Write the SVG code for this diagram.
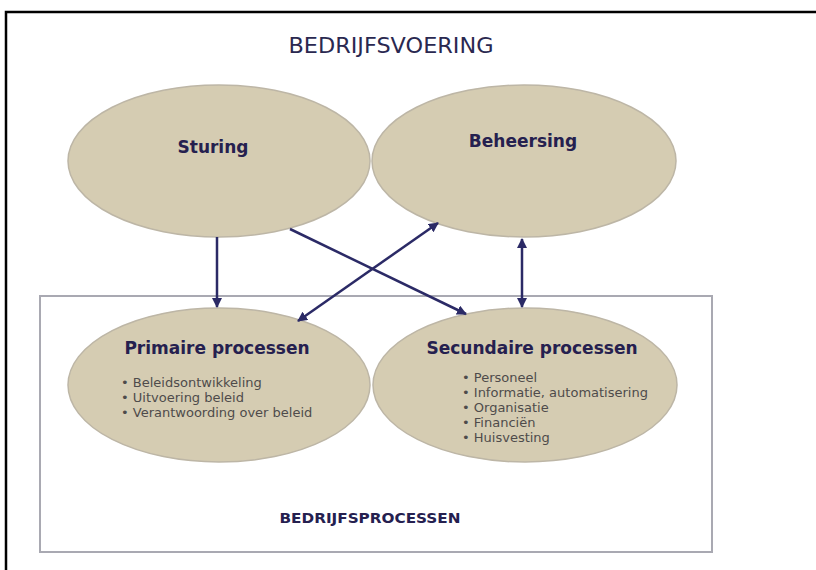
<svg xmlns="http://www.w3.org/2000/svg" width="816" height="570" viewBox="0 0 816 570">
<defs>
<marker id="ah" viewBox="0 0 10 10" refX="9" refY="5" markerWidth="4" markerHeight="4" orient="auto-start-reverse">
<path d="M0,0 L10,5 L0,10 z" fill="#2b2a66"/>
</marker>
<style>
.ell{fill:#d5ccb2;stroke:#bdb6a6;stroke-width:1.5}
.head{font-family:"DejaVu Sans",sans-serif;font-weight:bold;font-size:17px;fill:#25204f;text-anchor:middle}
.item{font-family:"DejaVu Sans",sans-serif;font-size:13px;fill:#4e4b4b}
.conn{stroke:#2b2a66;stroke-width:2.5;fill:none}
</style>
</defs>
<rect x="0" y="0" width="816" height="570" fill="#ffffff"/>
<rect x="6" y="12" width="830" height="580" fill="none" stroke="#000" stroke-width="2.5"/>
<text x="391" y="53" font-family="DejaVu Sans, sans-serif" font-size="21" fill="#2a2850" text-anchor="middle" textLength="205" lengthAdjust="spacingAndGlyphs">BEDRIJFSVOERING</text>
<g id="bedrijfsprocessen">
<rect x="40" y="296" width="672" height="256" fill="none" stroke="#a9a9b2" stroke-width="2"/>
<text x="370" y="523" font-family="DejaVu Sans, sans-serif" font-weight="bold" font-size="14" fill="#25204f" text-anchor="middle" textLength="181" lengthAdjust="spacingAndGlyphs">BEDRIJFSPROCESSEN</text>
</g>
<g id="sturing">
<ellipse class="ell" cx="219" cy="161" rx="151" ry="76"/>
<text class="head" x="213" y="153">Sturing</text>
</g>
<g id="beheersing">
<ellipse class="ell" cx="524" cy="161" rx="152" ry="76"/>
<text class="head" x="523" y="147">Beheersing</text>
</g>
<g id="primaire">
<ellipse class="ell" cx="219" cy="385" rx="151" ry="77"/>
<text class="head" x="217" y="354">Primaire processen</text>
<text class="item" x="121" y="387">• Beleidsontwikkeling</text>
<text class="item" x="121" y="402">• Uitvoering beleid</text>
<text class="item" x="121" y="417">• Verantwoording over beleid</text>
</g>
<g id="secundaire">
<ellipse class="ell" cx="525" cy="385" rx="152" ry="77"/>
<text class="head" x="532" y="354">Secundaire processen</text>
<text class="item" x="462" y="382">• Personeel</text>
<text class="item" x="462" y="397">• Informatie, automatisering</text>
<text class="item" x="462" y="412">• Organisatie</text>
<text class="item" x="462" y="427">• Financiën</text>
<text class="item" x="462" y="442">• Huisvesting</text>
</g>
<g id="connectors">
<line class="conn" x1="217" y1="237" x2="217" y2="307" marker-end="url(#ah)"/>
<line class="conn" x1="522" y1="239" x2="522" y2="307" marker-start="url(#ah)" marker-end="url(#ah)"/>
<line class="conn" x1="290" y1="229" x2="466" y2="314" marker-end="url(#ah)"/>
<line class="conn" x1="298" y1="321" x2="438" y2="223" marker-start="url(#ah)" marker-end="url(#ah)"/>
</g>
</svg>
